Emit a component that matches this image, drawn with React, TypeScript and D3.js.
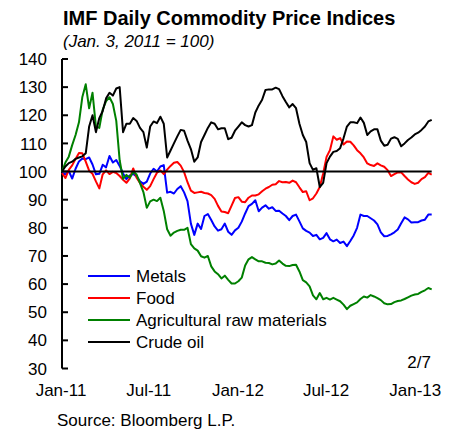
import React from "react";
import * as d3 from "d3";

// weekly readings, Jan 3 2011 .. Feb 4 2013
const START = new Date(2011, 0, 3);

const METALS = [
  99.5, 99, 100.2, 97.5, 101, 103.6, 104.6, 104.4, 105, 102.5, 99, 99.2, 102.4, 101.5, 105.5, 103.2, 104.1, 102, 99.3, 97.3,
  98.6, 99.2, 98.2, 96.5, 95.6, 96.4, 99.3, 101, 100, 101.8, 102.3, 92.5, 92.8, 92.2, 93.8, 94.8, 92.6, 89.5, 81.5, 77.5,
  81.5, 79.6, 84.2, 84.9, 82.8, 80.5, 79, 79.5, 81.5, 78.6, 77.5, 79.1, 80, 82.2, 85.1, 87.7, 88.5, 89.8, 85.9, 87.2,
  88, 86.8, 87.3, 86, 86.1, 85.1, 84.2, 82.7, 84.2, 84.7, 82.3, 79.8, 78.9, 78.3, 77.1, 77.5, 75.9, 76.4, 78.1, 75.9,
  75.2, 75.8, 74.6, 75.1, 73.5, 75.3, 77.3, 80, 84.7, 84.2, 84.2, 83.4, 82.6, 81.2, 78.4, 77, 77.1, 77.7, 78.4, 79.4,
  81.6, 83.7, 83, 81.9, 82, 82, 82.6, 82.9, 84.7, 84.7,
];

const FOOD = [
  99.5, 97.7, 100.6, 102.2, 104.5, 106.6, 106.5, 103.5, 100.3, 99.2, 96.5, 94, 99, 100.4, 99.1, 99.9, 99.5, 98.4, 97.1, 96,
  97.6, 101.1, 97.8, 95.9, 94.6, 93.5, 94.8, 97.3, 99.6, 100.4, 99.1, 100.7, 102, 103.1, 103.4, 102.1, 99.8, 96.2, 93.2, 92.4,
  92.6, 92.8, 92.4, 92.2, 91.6, 90.3, 87.8, 85.8, 85.6, 85.2, 87.9, 90.6, 90.9, 89.3, 89.1, 90.7, 91.5, 91.5, 91.9, 93,
  93.9, 94.5, 95.3, 95.5, 96.6, 96.2, 96.3, 96, 96.8, 96.2, 94.4, 92.7, 93, 89.8, 90.5, 92.2, 94.5, 99.3, 105.2, 107.6,
  112.5, 111.3, 111.9, 109.6, 110.7, 110.6, 109.3, 107.6, 106.5, 105, 102.9, 102.3, 102, 102.9, 102.2, 101.7, 100.5, 98.4, 99.1, 99.7,
  99.7, 98.4, 97.2, 96.2, 95.6, 96, 97.3, 98, 99.5, 98.9,
];

const AGRI = [
  100, 103.2, 105.3, 109.4, 113, 117.5, 126.5, 131, 122.5, 128, 116, 115.5, 122, 125, 126.4, 124, 118, 104, 97.4, 98.8,
  97.8, 99.9, 98.9, 95.9, 92.7, 87.1, 89.4, 90, 89.5, 90.7, 86, 79.5, 77.2, 78.3, 78.9, 79.3, 79.3, 80, 74.2, 72.7,
  71.9, 69.9, 69.4, 70, 66.3, 64.5, 63.5, 62, 63, 61.5, 60.2, 60.2, 61, 62.3, 66.6, 68.8, 69.6, 68.8, 68.1, 68.1,
  67.6, 67.5, 67, 67.3, 68.4, 67.3, 66.5, 66.4, 66.8, 66.9, 64.5, 61.4, 60.6, 59.2, 56, 54.6, 56.8, 54.6, 55.1, 54.5,
  55.1, 54.5, 53.9, 52.7, 51.1, 52.3, 52.9, 53.5, 54.7, 55.6, 55.2, 56.1, 55.6, 55, 54.3, 53.2, 52.8, 52.9, 53.6, 54,
  54.2, 54.7, 55.3, 55.9, 56.3, 56.5, 57.2, 57.8, 58.6, 58.1,
];

const CRUDE = [
  100, 101.8, 103, 103.5, 104.5, 105, 105.4, 106.5, 116, 120, 114, 119, 121.5, 126, 128, 127, 129.5, 130, 114, 117,
  117, 119, 118, 115.5, 114, 108.5, 116, 117.8, 117.2, 119.5, 117, 105, 107.5, 110, 112.5, 114.8, 114.5, 111, 108, 103.5,
  105, 110.5, 113, 115.5, 117.5, 117, 115, 115.4, 115.4, 111.5, 112, 114.5, 116, 117.5, 116.5, 116, 116.5, 121, 123.5, 125.5,
  129, 129.2, 129.2, 129.8, 129.3, 126.8, 124.7, 122.8, 124, 122.5, 117, 113, 110.5, 103, 100.6, 101.2, 94.5, 96, 103, 105.3,
  107, 107.3, 108.3, 111.8, 116, 117.5, 117.5, 117.2, 119.2, 117.3, 113, 114.3, 115, 115, 111, 109.2, 109.5, 111.7, 112.2, 111.6,
  109, 110, 111.2, 112.1, 113.2, 113.8, 114.8, 116, 117.8, 118.4,
];

const SERIES = [
  { name: "Metals", color: "#0000ff", values: METALS },
  { name: "Food", color: "#ff0000", values: FOOD },
  { name: "Agricultural raw materials", color: "#008000", values: AGRI },
  { name: "Crude oil", color: "#000000", values: CRUDE },
];

const Y_TICKS = [30, 40, 50, 60, 70, 80, 90, 100, 110, 120, 130, 140];
const X_TICKS = [
  new Date(2011, 0, 1),
  new Date(2011, 6, 1),
  new Date(2012, 0, 1),
  new Date(2012, 6, 1),
  new Date(2013, 0, 1),
];

const DATES = METALS.map((_, i) => d3.timeDay.offset(START, i * 7));

const FONT = "'Liberation Sans', Arial, sans-serif";

const App = () => {
  const width = 454;
  const height = 431;
  const left = 62;
  const right = 431.7;

  const x = d3
    .scaleTime()
    .domain([DATES[0], DATES[DATES.length - 1]])
    .range([left, right]);
  const y = d3.scaleLinear().domain([30, 140]).range([368.5, 59]);
  const fmt = d3.timeFormat("%b-%y");

  const line = d3
    .line<number>()
    .x((_, i) => x(DATES[i]))
    .y((d) => y(d));

  return (
    <svg
      width={width}
      height={height}
      style={{ position: "absolute", left: 0, top: 0, background: "#fff" }}
      fontFamily={FONT}
    >
      <text x={63} y={25} fontSize={20} fontWeight="bold">
        IMF Daily Commodity Price Indices
      </text>
      <text x={63} y={47} fontSize={17} fontStyle="italic">
        (Jan. 3, 2011 = 100)
      </text>

      {/* y axis */}
      <line x1={left} x2={left} y1={y(140)} y2={y(30)} stroke="#000" strokeWidth={2} />
      {Y_TICKS.map((t) => (
        <g key={t}>
          <line x1={left} x2={left + 6} y1={y(t)} y2={y(t)} stroke="#000" strokeWidth={2} />
          <text x={47} y={y(t)} dy="0.36em" fontSize={17} textAnchor="end">
            {t}
          </text>
        </g>
      ))}

      {X_TICKS.map((d) => (
        <text key={+d} x={x(d)} y={396} fontSize={17} textAnchor="middle">
          {fmt(d)}
        </text>
      ))}

      {SERIES.map((s) => (
        <path
          key={s.name}
          d={line(s.values) || ""}
          fill="none"
          stroke={s.color}
          strokeWidth={2}
          strokeLinejoin="round"
        />
      ))}

      <line x1={left} x2={right} y1={y(100)} y2={y(100)} stroke="#000" strokeWidth={2} />

      {SERIES.map((s, i) => (
        <g key={s.name} transform={`translate(88, ${276 + i * 22})`}>
          <line x1={0} x2={42} y1={0} y2={0} stroke={s.color} strokeWidth={2} />
          <text x={48} y={0} dy="0.36em" fontSize={17}>
            {s.name}
          </text>
        </g>
      ))}

      <text x={431} y={368} fontSize={17} textAnchor="end">
        2/7
      </text>
      <text x={57} y={426} fontSize={17}>
        Source: Bloomberg L.P.
      </text>
    </svg>
  );
};

export default App;
